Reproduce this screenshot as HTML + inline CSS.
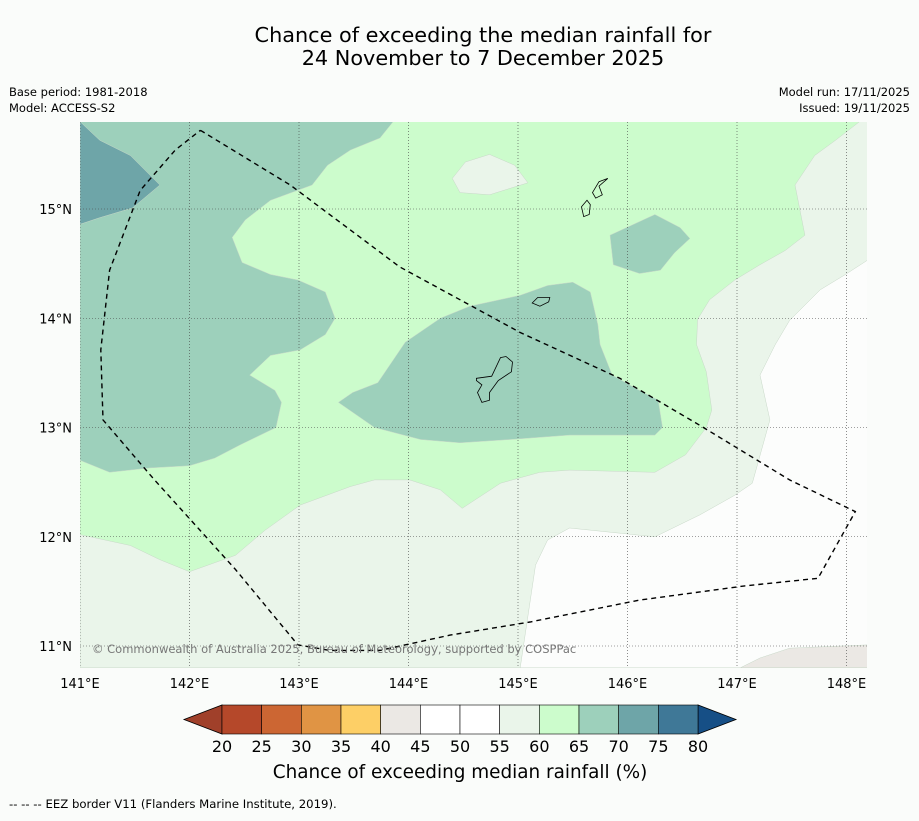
<!DOCTYPE html>
<html><head><meta charset="utf-8">
<style>
body{margin:0;background:#fafcfa;font-family:"Liberation Sans","DejaVu Sans",sans-serif;}
svg text{font-family:"DejaVu Sans","Liberation Sans",sans-serif;}
</style></head>
<body>
<svg id="chart" width="919" height="816" xmlns="http://www.w3.org/2000/svg">
<rect width="919" height="816" fill="#fafcfa"/>
<text x="483" y="42" font-size="20.8" text-anchor="middle">Chance of exceeding the median rainfall for</text>
<text x="483" y="65" font-size="20.8" text-anchor="middle">24 November to 7 December 2025</text>
<text x="9" y="96" font-size="11.5">Base period: 1981-2018</text>
<text x="9" y="112" font-size="11.5">Model: ACCESS-S2</text>
<text x="910" y="96" font-size="11.5" text-anchor="end">Model run: 17/11/2025</text>
<text x="910" y="112" font-size="11.5" text-anchor="end">Issued: 19/11/2025</text>
<g id="map"></g>
<g id="cbar"></g>
<text x="460" y="778" font-size="18.4" text-anchor="middle">Chance of exceeding median rainfall (%)</text>
<text x="9" y="808" font-size="11.7">--  --  -- EEZ border V11 (Flanders Marine Institute, 2019).</text>
</svg>
<script>
const lonTicks=[141,142,143,144,145,146,147,148];
const latTicks=[11,12,13,14,15];
const cbLevels=[20,25,30,35,40,45,50,55,60,65,70,75,80];
const cbColors=["#b5482a","#cc6633","#e09444","#fdcf66","#ebe8e4","#ffffff","#ffffff","#eaf5ea","#ccfccc","#9dd0bb","#6ea5a8","#3f7897"];
const cbUnder="#a0402a", cbOver="#164f86";
const band5560=[[141,15.8],[148.19,15.8],[148.19,10.8],[141,10.8]];
const band6065=[[141,15.8],[148.12,15.8],[147.9,15.63],[147.71,15.49],[147.53,15.22],[147.62,14.76],[147.44,14.62],[147.21,14.49],[146.98,14.35],[146.75,14.17],[146.64,13.99],[146.63,13.76],[146.72,13.51],[146.77,13.16],[146.72,13.0],[146.53,12.75],[146.25,12.59],[145.47,12.61],[145.2,12.59],[144.84,12.49],[144.49,12.26],[144.29,12.43],[144.01,12.52],[143.69,12.52],[143.47,12.46],[143.01,12.29],[142.69,12.06],[142.42,11.83],[142.0,11.68],[141.73,11.79],[141.46,11.92],[141,12.02]];
const patch5560=[[144.4,15.28],[144.52,15.43],[144.74,15.5],[144.97,15.4],[145.09,15.24],[144.74,15.13],[144.47,15.15]];
const band5055=[[145.02,10.8],[145.16,11.74],[145.27,11.97],[145.47,12.08],[146.25,12.0],[146.66,12.2],[146.98,12.38],[147.14,12.49],[147.3,13.07],[147.21,13.48],[147.35,13.76],[147.48,13.98],[147.76,14.26],[147.99,14.4],[148.19,14.53],[148.19,10.8]];
const band4045=[[147.03,10.8],[147.21,10.89],[147.48,10.98],[148.19,11.01],[148.19,10.8]];
const band6570a=[[141,15.8],[143.86,15.8],[143.74,15.65],[143.47,15.54],[143.26,15.4],[143.12,15.22],[142.74,15.08],[142.51,14.9],[142.39,14.74],[142.48,14.51],[142.74,14.4],[142.99,14.35],[143.24,14.24],[143.33,14.0],[143.24,13.85],[143.01,13.71],[142.74,13.66],[142.55,13.48],[142.78,13.34],[142.84,13.23],[142.79,13.0],[142.46,12.84],[142.23,12.72],[142.0,12.65],[141.64,12.63],[141.27,12.59],[141,12.7]];
const band6570b=[[143.36,13.23],[143.49,13.32],[143.72,13.41],[143.97,13.78],[144.29,14.0],[144.56,14.11],[145.02,14.21],[145.27,14.3],[145.5,14.33],[145.66,14.24],[145.73,13.94],[145.75,13.76],[145.86,13.48],[146.11,13.34],[146.28,13.25],[146.32,13.0],[146.25,12.93],[145.47,12.93],[144.93,12.89],[144.47,12.86],[144.11,12.89],[143.69,13.0]];
const band6570c=[[145.84,14.76],[146.25,14.95],[146.48,14.83],[146.57,14.73],[146.43,14.6],[146.3,14.44],[146.11,14.41],[145.87,14.49]];
const band7075=[[141,15.8],[141.18,15.63],[141.46,15.49],[141.73,15.22],[141.48,15.01],[141.18,14.92],[141,14.86]];
const guam=[[144.62,13.45],[144.76,13.47],[144.84,13.64],[144.89,13.65],[144.95,13.6],[144.94,13.51],[144.82,13.43],[144.74,13.32],[144.74,13.25],[144.67,13.23],[144.63,13.32],[144.67,13.39],[144.62,13.43]];
const rota=[[145.13,14.14],[145.18,14.19],[145.29,14.19],[145.28,14.15],[145.2,14.11]];
const saipan=[[145.68,15.15],[145.74,15.25],[145.82,15.28],[145.74,15.21],[145.77,15.13],[145.71,15.1]];
const tinian=[[145.58,15.02],[145.63,15.08],[145.66,15.04],[145.65,14.95],[145.6,14.93]];
const eez=[[142.1,15.72],[142.92,15.22],[143.92,14.47],[145.02,13.87],[145.93,13.45],[146.66,13.02],[147.48,12.52],[148.08,12.23],[147.74,11.62],[147.07,11.55],[146.11,11.42],[145.11,11.22],[144.38,11.1],[143.74,10.96],[143.28,10.96],[142.99,11.01],[142.42,11.7],[141.68,12.52],[141.21,13.07],[141.19,13.71],[141.27,14.44],[141.55,15.17],[141.87,15.54],[142.1,15.72]];

const NS="http://www.w3.org/2000/svg";
const X=lon=>80+(lon-141)*109.5;
const Y=lat=>209-(lat-15)*109.25;
const map=document.getElementById('map');
function mk(tag,attrs,parent){const e=document.createElementNS(NS,tag);for(const k in attrs)e.setAttribute(k,attrs[k]);parent.appendChild(e);return e;}
function pts(a){return a.map(p=>X(p[0]).toFixed(1)+","+Y(p[1]).toFixed(1)).join(" ");}
const clip=mk('clipPath',{id:'mc'},map);mk('rect',{x:80,y:122,width:787,height:546},clip);
const g=mk('g',{'clip-path':'url(#mc)'},map);
const fills=[[band5560,"#eaf5ea","band-55-60"],[band6065,"#ccfccc","band-60-65"],[patch5560,"#eaf5ea","patch-55-60"],[band5055,"#fcfdfc","band-50-55"],[band4045,"#ebe8e4","band-40-45"],[band6570a,"#9dd0bb","band-65-70-west"],[band6570b,"#9dd0bb","band-65-70-guam"],[band6570c,"#9dd0bb","band-65-70-east"],[band7075,"#6ea5a8","band-70-75"]];
fills.forEach(f=>{const e=mk('polygon',{points:pts(f[0]),fill:f[1],stroke:"#c8d8c8","stroke-width":0.5},g);

});
[[guam,"guam"],[rota,"rota"],[saipan,"saipan"],[tinian,"tinian"]].forEach(i=>{const e=mk('polygon',{points:pts(i[0]),fill:"none",stroke:"#000","stroke-width":0.8},g);

});
lonTicks.forEach(t=>{const l=mk('line',{x1:X(t),x2:X(t),y1:122,y2:668,stroke:"#444","stroke-width":0.6,"stroke-dasharray":"1,2"},g);


const tx=mk('text',{x:X(t),y:688,'font-size':13,'text-anchor':'middle'},map);tx.textContent=t+"°E";

});
latTicks.forEach(t=>{const l=mk('line',{x1:80,x2:867,y1:Y(t),y2:Y(t),stroke:"#444","stroke-width":0.6,"stroke-dasharray":"1,2"},g);


const tx=mk('text',{x:72,y:Y(t)+5,'font-size':13,'text-anchor':'end'},map);tx.textContent=t+"°N";

});
const ez=mk('polyline',{points:pts(eez),fill:"none",stroke:"#000","stroke-width":1.4,"stroke-dasharray":"5,4"},g);


const cp=mk('text',{x:92,y:653,'font-size':11.5,fill:'#777'},map);cp.textContent="© Commonwealth of Australia 2025, Bureau of Meteorology, supported by COSPPac";



const cb=document.getElementById('cbar');
const cx0=222,cx1=698,cy0=705,cy1=734;
const CX=v=>cx0+(v-cbLevels[0])/(cbLevels[cbLevels.length-1]-cbLevels[0])*(cx1-cx0);
const u=mk('polygon',{points:`${cx0},${cy0} ${cx0},${cy1} 184,${(cy0+cy1)/2}`,fill:cbUnder,stroke:"#000","stroke-width":0.8},cb);


const o=mk('polygon',{points:`${cx1},${cy0} ${cx1},${cy1} 736,${(cy0+cy1)/2}`,fill:cbOver,stroke:"#000","stroke-width":0.8},cb);


cbColors.forEach((c,i)=>{const r=mk('rect',{x:CX(cbLevels[i]),y:cy0,width:CX(cbLevels[i+1])-CX(cbLevels[i]),height:cy1-cy0,fill:c,stroke:"#000","stroke-width":0.6},cb);

});
cbLevels.forEach(v=>{const t=mk('text',{x:CX(v),y:752,'font-size':16,'text-anchor':'middle'},cb);t.textContent=v;

});
</script>
</body></html>
